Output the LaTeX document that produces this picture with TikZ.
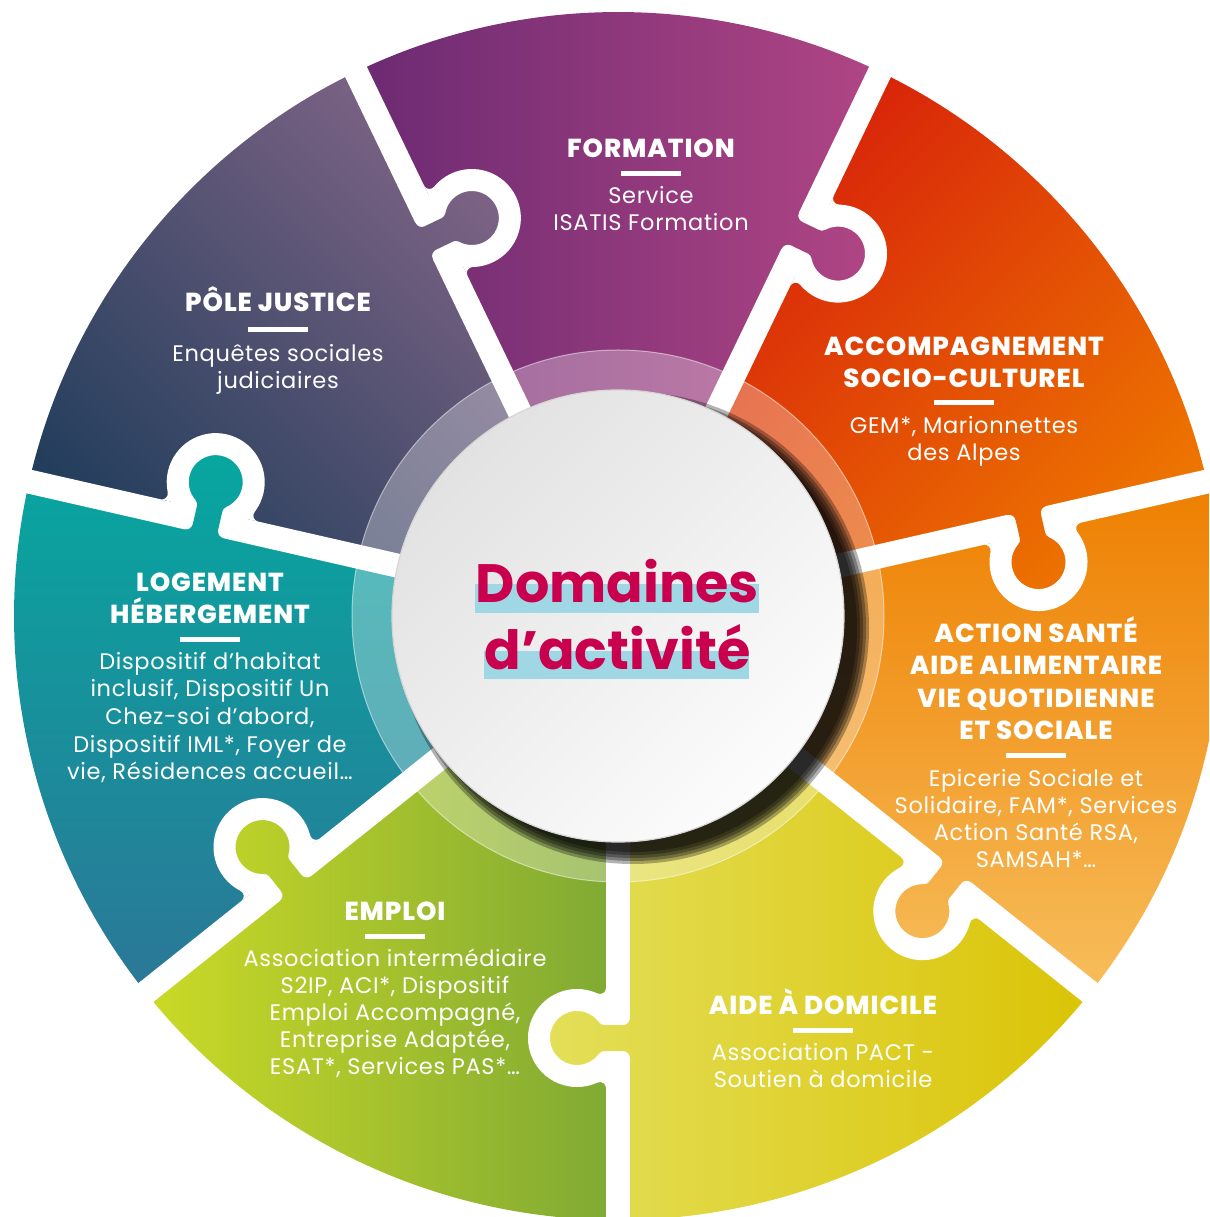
\documentclass[tikz,border=0pt]{standalone}
\usepackage{fontspec}
\setmainfont{Poppins}
\IfFontExistsTF{Poppins ExtraBold}{\newfontfamily\ttlfont{Poppins ExtraBold}[LetterSpace=3.5]}{\newfontfamily\ttlfont{Poppins Bold}[LetterSpace=5]}
\newfontfamily\bdyfont{Poppins}[LetterSpace=3]
\usetikzlibrary{calc}
\definecolor{crimson}{HTML}{C8004E}
\definecolor{hilite}{HTML}{9FD7E5}
\definecolor{AideL}{HTML}{E3E05C}
\definecolor{AideR}{HTML}{DBC406}
\definecolor{ActT}{HTML}{EE7F00}
\definecolor{ActB}{HTML}{F7BE5C}
\definecolor{AccT}{HTML}{D5190B}
\definecolor{AccB}{HTML}{ED7400}
\definecolor{ForL}{HTML}{6B2A72}
\definecolor{ForR}{HTML}{B24685}
\definecolor{JusT}{HTML}{876789}
\definecolor{JusB}{HTML}{233E5C}
\definecolor{LogT}{HTML}{05A9A0}
\definecolor{LogB}{HTML}{2B7797}
\definecolor{EmpL}{HTML}{CBDA26}
\definecolor{EmpR}{HTML}{7FA934}
\definecolor{hubA}{HTML}{E2E2E2}
\definecolor{hubB}{HTML}{FCFCFC}
\tikzset{
  shAide/.style={left color=AideL, right color=AideR},
  shAct/.style={top color=ActT, bottom color=ActB},
  shAcc/.style={top color=AccT, bottom color=AccB, shading angle=45},
  shFor/.style={left color=ForL, right color=ForR},
  shJus/.style={top color=JusT, bottom color=JusB, shading angle=-45},
  shLog/.style={top color=LogT, bottom color=LogB},
  shEmp/.style={left color=EmpL, right color=EmpR},
  sepline/.style={white, line width=24},
  knobline/.style={white, line width=22},
  ttl/.style={text=white, inner sep=0, anchor=base, font=\fontsize{26}{26}\selectfont\ttlfont},
  bdy/.style={text=white, inner sep=0, anchor=base, font=\fontsize{22.5}{22.5}\selectfont\bdyfont},
  ubar/.style={fill=white, inner sep=0, minimum width=60, minimum height=5},
  bigt/.style={text=crimson, inner sep=0, anchor=base, font=\fontsize{54}{54}\selectfont\bfseries}
}
\newcommand{\paintsector}[4]{%
  \begin{scope}
    \clip (0,0) -- (#1:604) arc[start angle=#1, end angle=#2, radius=604] -- cycle;
    \shade[#3] #4;
  \end{scope}}
\newcommand{\paintknob}[3]{%
  \begin{scope}
    \clip ($(#1:422)+(#1-90:41)$) circle[radius=40];
    \shade[#2] #3;
  \end{scope}}
\newcommand{\cutknob}[3]{%
  \begin{scope}[rotate=#1]
    \draw[sepline] (150,0) -- (680,0);
    \draw[knobline] (422,-41) circle[radius=38];
    \fill[white] (466.5,-20.5) arc[start angle=204.7, end angle=90, radius=6] -- (460,-12) -- (464,-22) -- cycle;
    \fill[white] (377.5,-20.5) arc[start angle=-24.7, end angle=90, radius=6] -- (384,-12) -- (380,-22) -- cycle;
    \begin{scope}
      \clip (402,12) arc[start angle=90, end angle=0, radius=7]
        -- (409,-14) arc[start angle=0, end angle=-54.9, radius=6]
        -- (422,-25) -- (437.55,-18.9) arc[start angle=234.9, end angle=180, radius=6]
        -- (435,5) arc[start angle=180, end angle=90, radius=7]
        -- (442,18) -- (402,18) -- cycle;
      \begin{scope}[rotate={-1*(#1)}]
        \shade[#2] #3;
      \end{scope}
    \end{scope}
  \end{scope}}
\begin{document}
\begin{tikzpicture}[x=1pt,y=1pt]
\useasboundingbox (-618,-601) rectangle (591,616);
\clip (-618,-601) rectangle (591,616);
% sectors
\paintsector{-90}{-38.571429}{shAide}{(-95,-604) rectangle (472,0)}
\paintsector{-38.571429}{12.857143}{shAct}{(0,-380) rectangle (604,134)}
\paintsector{12.857143}{64.285714}{shAcc}{(0,0) rectangle (589,544)}
\paintsector{64.285714}{115.714286}{shFor}{(-262,0) rectangle (272,604)}
\paintsector{115.714286}{167.142857}{shJus}{(-589,0) rectangle (0,544)}
\paintsector{167.142857}{218.571429}{shLog}{(-604,-377) rectangle (0,186)}
\paintsector{218.571429}{270}{shEmp}{(-472,-604) rectangle (0,0)}
% knobs
\paintknob{-90}{shAide}{(-95,-604) rectangle (472,0)}
\paintknob{-38.571429}{shAct}{(0,-380) rectangle (604,134)}
\paintknob{12.857143}{shAcc}{(0,0) rectangle (589,544)}
\paintknob{64.285714}{shFor}{(-262,0) rectangle (272,604)}
\paintknob{115.714286}{shJus}{(-589,0) rectangle (0,544)}
\paintknob{167.142857}{shLog}{(-604,-377) rectangle (0,186)}
\paintknob{218.571429}{shEmp}{(-472,-604) rectangle (0,0)}
% translucent ring
\fill[white, opacity=0.3, even odd rule] (0,0) circle[radius=266] (0,0) circle[radius=226];
\draw[white, opacity=0.5, line width=1] (0,0) circle[radius=266];
% white gaps
\cutknob{-90}{shAide}{(-95,-604) rectangle (472,0)}
\cutknob{-38.571429}{shAct}{(0,-380) rectangle (604,134)}
\cutknob{12.857143}{shAcc}{(0,0) rectangle (589,544)}
\cutknob{64.285714}{shFor}{(-262,0) rectangle (272,604)}
\cutknob{115.714286}{shJus}{(-589,0) rectangle (0,544)}
\cutknob{167.142857}{shLog}{(-604,-377) rectangle (0,186)}
\cutknob{218.571429}{shEmp}{(-472,-604) rectangle (0,0)}
% shadow
\foreach \r in {236,233,230,227,224}
  \fill[black, opacity=0.3] (15,-12) circle[radius=\r];
% hub
\node[circle, inner sep=0, minimum size=452, top color=hubA, bottom color=hubB, shading angle=45, draw=black!16, line width=1.2] (hub) at (0,0) {};
\fill[hilite] (-143,3) rectangle (141,32);
\fill[hilite] (-134,-63) rectangle (131,-35);
\node[bigt] (d1) at (-0.5,13) {Domaines};
\node[bigt] (d2) at (-0.5,-54) {d’activité};
% FORMATION
\node[ttl] (f1) at (33,458) {FORMATION};
\node[ubar] (fu) at (33,442.5) {};
\node[bdy] (f2) at (33,412) {Service};
\node[bdy] (f3) at (33,385) {ISATIS Formation};
% JUSTICE
\node[ttl] (j1) at (-340,304) {PÔLE JUSTICE};
\node[ubar] (ju) at (-340,286) {};
\node[bdy] (j2) at (-340,254) {Enquêtes sociales};
\node[bdy] (j3) at (-340,227) {judiciaires};
% ACCOMPAGNEMENT
\node[ttl] (a1) at (346,260) {ACCOMPAGNEMENT};
\node[ttl] (a2) at (346,228) {SOCIO-CULTUREL};
\node[ubar] (au) at (346,213) {};
\node[bdy] (a3) at (346,182) {GEM*, Marionnettes};
\node[bdy] (a4) at (346,155) {des Alpes};
% ACTION SANTE
\node[ttl] (s1) at (418,-27) {ACTION SANTÉ};
\node[ttl] (s2) at (418,-59) {AIDE ALIMENTAIRE};
\node[ttl] (s3) at (418,-91) {VIE QUOTIDIENNE};
\node[ttl] (s4) at (418,-123) {ET SOCIALE};
\node[ubar] (su) at (418,-139.5) {};
\node[bdy] (s5) at (418,-170) {Epicerie Sociale et};
\node[bdy] (s6) at (418,-197) {Solidaire, FAM*, Services};
\node[bdy] (s7) at (418,-224) {Action Santé RSA,};
\node[bdy] (s8) at (418,-251) {SAMSAH*…};
% LOGEMENT
\node[ttl] (l1) at (-408,24) {LOGEMENT};
\node[ttl] (l2) at (-408,-8) {HÉBERGEMENT};
\node[ubar] (lu) at (-408,-24) {};
\node[bdy] (l3) at (-408,-54) {Dispositif d’habitat};
\node[bdy] (l4) at (-408,-81) {inclusif, Dispositif Un};
\node[bdy] (l5) at (-408,-108) {Chez-soi d’abord,};
\node[bdy] (l6) at (-408,-136) {Dispositif IML*, Foyer de};
\node[bdy] (l7) at (-408,-163) {vie, Résidences accueil…};
% EMPLOI
\node[ttl] (e1) at (-223,-304) {EMPLOI};
\node[ubar] (eu) at (-223,-320) {};
\node[bdy] (e2) at (-223,-350) {Association intermédiaire};
\node[bdy] (e3) at (-223,-377) {S2IP, ACI*, Dispositif};
\node[bdy] (e4) at (-223,-404) {Emploi Accompagné,};
\node[bdy] (e5) at (-223,-431) {Entreprise Adaptée,};
\node[bdy] (e6) at (-223,-458) {ESAT*, Services PAS*…};
% AIDE A DOMICILE
\node[ttl] (h1) at (205,-398) {AIDE À DOMICILE};
\node[ubar] (hu) at (205,-414) {};
\node[bdy] (h2) at (205,-444) {Association PACT -};
\node[bdy] (h3) at (205,-471) {Soutien à domicile};
\end{tikzpicture}
\end{document}
